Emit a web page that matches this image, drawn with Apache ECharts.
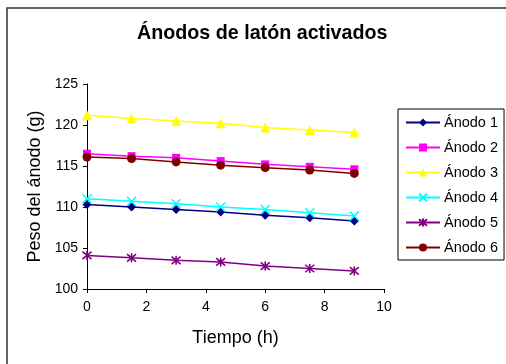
<!DOCTYPE html>
<html>
<head>
<meta charset="utf-8">
<script src="https://cdn.jsdelivr.net/npm/echarts@6/dist/echarts.min.js"></script>
<style>html,body{margin:0;padding:0;background:#fff}#c{width:506px;height:364px}</style>
</head>
<body>
<div id="c"></div>
<script>
const times = [0, 1.5, 3, 4.5, 6, 7.5, 9];
const names = ['Ánodo 1', 'Ánodo 2', 'Ánodo 3', 'Ánodo 4', 'Ánodo 5', 'Ánodo 6'];
const anodo1 = [110.3, 110.0, 109.7, 109.4, 109.0, 108.7, 108.3];
const anodo2 = [116.5, 116.2, 116.0, 115.6, 115.2, 114.9, 114.6];
const anodo3 = [121.2, 120.8, 120.5, 120.2, 119.7, 119.4, 119.1];
const anodo4 = [111.0, 110.7, 110.4, 110.0, 109.7, 109.3, 108.9];
const anodo5 = [104.1, 103.8, 103.5, 103.3, 102.8, 102.5, 102.2];
const anodo6 = [116.1, 115.9, 115.5, 115.1, 114.8, 114.5, 114.1];
const xTicks = [0, 2, 4, 6, 8, 10];
const yTicks = [100, 105, 110, 115, 120, 125];

const colors = ['#000080', '#FF00FF', '#FFFF00', '#00FFFF', '#800080', '#800000'];
const symbols = ['diamond', 'rect', 'triangle', 'path://M0,0L10,10M10,0L0,10', 'path://M0,0L10,10M10,0L0,10M5,-1L5,11', 'circle'];
const sizes = [9, 8, 10, 9, 9, 9];
const allData = [anodo1, anodo2, anodo3, anodo4, anodo5, anodo6];
const FONT = "'Liberation Sans', Arial, sans-serif";

const series = allData.map((vals, i) => ({
  name: names[i],
  type: 'line',
  data: vals.map((v, j) => [times[j], v]),
  symbol: symbols[i],
  symbolSize: sizes[i],
  showAllSymbol: true,
  lineStyle: { color: colors[i], width: 1.5 },
  itemStyle: { color: colors[i], borderColor: colors[i], borderWidth: (i === 3 || i === 4) ? 1.6 : 0 },
  emphasis: { disabled: true },
  animation: false
}));

const chart = echarts.init(document.getElementById('c'), null, { renderer: 'canvas' });
chart.setOption({
  animation: false,
  backgroundColor: '#fff',
  textStyle: { fontFamily: FONT },
  title: {
    text: 'Ánodos de latón activados',
    left: 137, top: 24, padding: 0,
    textStyle: { fontFamily: FONT, fontSize: 19.7, fontWeight: 'bold', color: '#000' }
  },
  graphic: [{
    type: 'rect', shape: { x: 7, y: 8, width: 520, height: 380 },
    style: { fill: null, stroke: '#333', lineWidth: 1.5 }, silent: true, z: -1
  }],
  legend: {
    orient: 'vertical',
    left: 398, top: 109,
    padding: [6, 6, 5, 7],
    borderColor: '#000', borderWidth: 1,
    itemWidth: 34, itemHeight: 10, itemGap: 10,
    textStyle: { fontFamily: FONT, fontSize: 14.5, color: '#000', padding: [0, 0, 0, -1] },
    data: names
  },
  grid: { left: 87, right: 122, top: 84, bottom: 75 },
  xAxis: {
    type: 'value', min: xTicks[0], max: xTicks[xTicks.length - 1], interval: 2,
    name: 'Tiempo (h)', nameLocation: 'middle', nameGap: 40,
    nameTextStyle: { fontFamily: FONT, fontSize: 18, color: '#000' },
    axisLine: { show: true, lineStyle: { color: '#000', width: 1 } },
    axisTick: { show: true, length: 4, lineStyle: { color: '#000' } },
    axisLabel: { fontFamily: FONT, fontSize: 14, color: '#000', margin: 11 },
    splitLine: { show: false }
  },
  yAxis: {
    type: 'value', min: yTicks[0], max: yTicks[yTicks.length - 1], interval: 5,
    name: 'Peso del ánodo (g)', nameLocation: 'middle', nameGap: 41,
    nameTextStyle: { fontFamily: FONT, fontSize: 18, color: '#000' },
    axisLine: { show: true, lineStyle: { color: '#000', width: 1 } },
    axisTick: { show: true, length: 4, lineStyle: { color: '#000' } },
    axisLabel: { fontFamily: FONT, fontSize: 14, color: '#000', margin: 9 },
    splitLine: { show: false }
  },
  series: series
});
</script>
</body>
</html>
